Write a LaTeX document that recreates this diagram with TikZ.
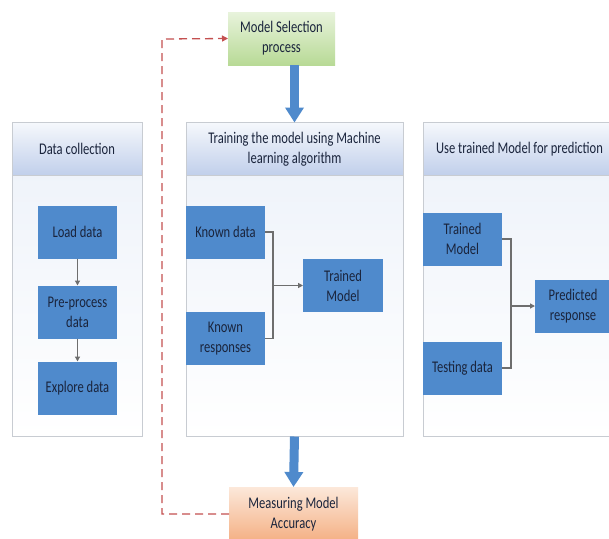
\documentclass[tikz,border=0pt]{standalone}
\usepackage{fontspec}
\setmainfont{Carlito}[FakeStretch=0.77]
\usepackage{tikz}
\usetikzlibrary{arrows.meta}
\usepackage{xcolor}
\definecolor{boxblue}{RGB}{79,138,204}
\definecolor{boxtext}{RGB}{26,36,60}
\definecolor{headtop}{RGB}{246,248,252}
\definecolor{headbot}{RGB}{192,207,235}
\definecolor{bodytop}{RGB}{236,241,249}
\definecolor{panelline}{RGB}{200,204,210}
\definecolor{linkgray}{RGB}{110,110,110}
\definecolor{fbred}{RGB}{196,80,80}
\definecolor{greentop}{RGB}{232,243,220}
\definecolor{greenbot}{RGB}{184,218,150}
\definecolor{orangetop}{RGB}{252,232,218}
\definecolor{orangebot}{RGB}{244,176,132}
\newcommand{\stage}[6] {
    \node[panelbody,minimum width=#3,minimum height=#4] (#5) at (#1, #2) {};
    \node[panelhead,minimum width=#3,anchor=north] (#5h) at (#5.north) {#6};
}

\begin{document}
\begin{tikzpicture}
    \tikzset{
        x={(1pt,0pt)},y={(0pt,-1pt)},
        every node/.style={font=\fontsize{16.3}{20}\selectfont,text=boxtext,
            align=center,inner sep=0pt,outer sep=0pt},
        panelbody/.style={draw=panelline,line width=0.8pt,top color=bodytop,
            bottom color=white},
        panelhead/.style={draw=panelline,line width=0.8pt,minimum height=53pt,
            top color=headtop,bottom color=headbot},
        stepbox/.style={fill=boxblue,minimum width=79pt,minimum height=53pt},
        link/.style={draw=linkgray,line width=1.3pt,
            -{Triangle[length=5pt,width=5pt]}},
        bigarrow/.style={draw=boxblue,line width=9pt,
            -{Triangle[length=15pt,width=18pt]}},
        feedback/.style={draw=fbred,line width=1.3pt,dash pattern=on 8pt off 5pt,
            -{Triangle[length=6pt,width=6pt]}}
    }
    \clip (0,0) rectangle (609,538);
    \fill[white] (0,0) rectangle (609,538);
    % panels
    \stage{77}{279.5}{130pt}{314pt}{col}{Data collection}
    \stage{294.5}{279.5}{217pt}{314pt}{trn}{Training the model using Machine\\learning algorithm}
    \stage{519.5}{279.5}{193pt}{314pt}{use}{Use trained Model for prediction}
    % data collection
    \node[stepbox] (load) at (77.5,232) {Load data};
    \node[stepbox] (prep) at (77.5,312) {Pre-process\\data};
    \node[stepbox] (expl) at (77.5,388) {Explore data};
    \draw[link] (load) -- (prep);
    \draw[link] (prep) -- (expl);
    % training
    \node[stepbox] (kdata) at (225.5,232) {Known data};
    \node[stepbox] (kresp) at (225.5,338.5) {Known\\responses};
    \node[stepbox,minimum width=80pt] (tmod) at (343,285.5) {Trained\\Model};
    \coordinate (j1) at (273,285.5);
    \draw[draw=linkgray,line width=1.3pt] (kdata.east) -| (j1) |- (kresp.east);
    \draw[link] (j1) -- (tmod.west);
    % prediction
    \node[stepbox] (tmod2) at (462.5,239) {Trained\\Model};
    \node[stepbox] (test) at (462.5,368) {Testing data};
    \node[stepbox,minimum width=76pt] (pred) at (573,306) {Predicted\\response};
    \coordinate (j2) at (511,306);
    \draw[draw=linkgray,line width=1.3pt] (tmod2.east) -| (j2) |- (test.east);
    \draw[link] (j2) -- (pred.west);
    % selection and accuracy
    \node[top color=greentop,bottom color=greenbot,minimum width=107pt,
        minimum height=53pt] (sel) at (281.5,38.5) {Model Selection\\process};
    \node[top color=orangetop,bottom color=orangebot,minimum width=129pt,
        minimum height=54pt] (meas) at (293.5,514) {Measuring Model\\Accuracy};
    \draw[bigarrow] (sel.south -| trn.north) -- (trn.north);
    \draw[bigarrow] (trn.south) -- (meas.north);
    \coordinate (fb) at (162,39);
    \draw[feedback] (meas.west) -| (fb) -- (sel.west);
\end{tikzpicture}
\end{document}
